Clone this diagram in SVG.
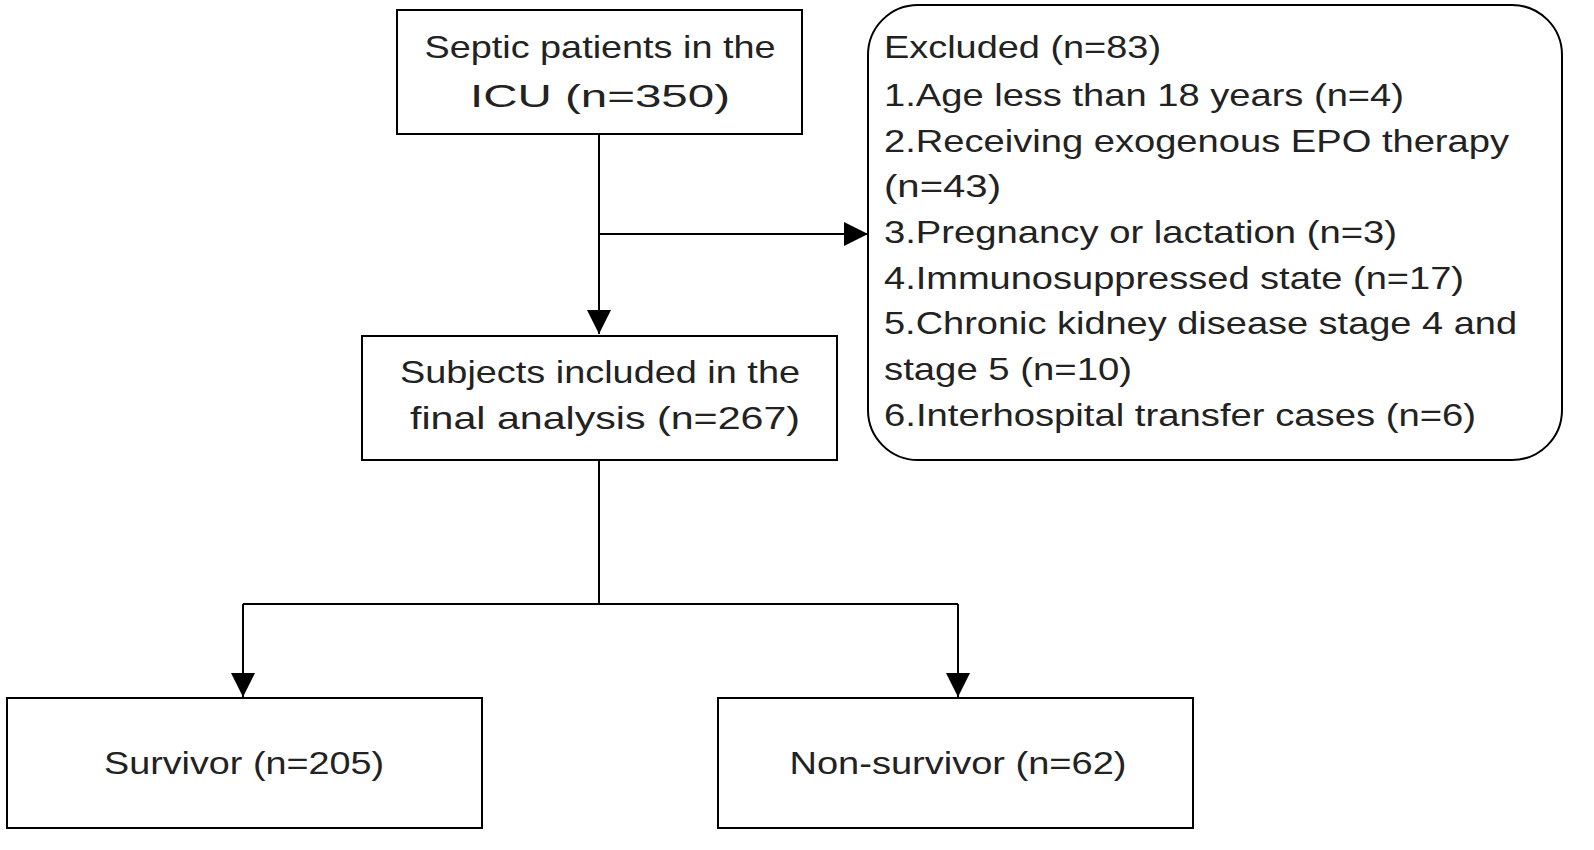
<svg xmlns="http://www.w3.org/2000/svg" width="1594" height="850" viewBox="0 0 1594 850">
<style>
.b{fill:#fff;stroke:#000;stroke-width:2}
.t{font-family:"Liberation Sans",Arial,sans-serif;font-size:32px;fill:#222}
.c{text-anchor:middle}
.l{fill:none;stroke:#000;stroke-width:2}
</style>
<defs><marker id="a" viewBox="0 0 10 10" refX="10" refY="5" markerWidth="24" markerHeight="24" markerUnits="userSpaceOnUse" orient="auto"><path d="M0,0L10,5L0,10z" fill="#000"/></marker></defs>
<rect width="1594" height="850" fill="#fff"/>
<g id="connectors">
<path class="l" d="M599,134V334" marker-end="url(#a)"/>
<path class="l" d="M599,234H868" marker-end="url(#a)"/>
<path class="l" d="M599,460V604"/>
<path class="l" d="M243,604H958"/>
<path class="l" d="M243,604V697" marker-end="url(#a)"/>
<path class="l" d="M958,604V697" marker-end="url(#a)"/>
</g>
<g id="n1"><rect class="b" x="397" y="10" width="405" height="124"/>
<text class="t c" x="600" y="58" textLength="351" lengthAdjust="spacingAndGlyphs">Septic patients in the</text><text class="t c" x="600" y="107" textLength="260" lengthAdjust="spacingAndGlyphs">ICU (n=350)</text></g>
<g id="n2"><rect class="b" x="868" y="5" width="694" height="455" rx="50"/>
<text class="t" x="884" y="58" textLength="277" lengthAdjust="spacingAndGlyphs">Excluded (n=83)</text>
<text class="t" x="884" y="106" textLength="520" lengthAdjust="spacingAndGlyphs">1.Age less than 18 years (n=4)</text>
<text class="t" x="884" y="152" textLength="625" lengthAdjust="spacingAndGlyphs">2.Receiving exogenous EPO therapy</text>
<text class="t" x="884" y="197" textLength="117" lengthAdjust="spacingAndGlyphs">(n=43)</text>
<text class="t" x="884" y="243" textLength="513" lengthAdjust="spacingAndGlyphs">3.Pregnancy or lactation (n=3)</text>
<text class="t" x="884" y="289" textLength="580" lengthAdjust="spacingAndGlyphs">4.Immunosuppressed state (n=17)</text>
<text class="t" x="884" y="334" textLength="633" lengthAdjust="spacingAndGlyphs">5.Chronic kidney disease stage 4 and</text>
<text class="t" x="884" y="380" textLength="248" lengthAdjust="spacingAndGlyphs">stage 5 (n=10)</text>
<text class="t" x="884" y="426" textLength="592" lengthAdjust="spacingAndGlyphs">6.Interhospital transfer cases (n=6)</text></g>
<g id="n3"><rect class="b" x="362" y="336" width="475" height="124"/>
<text class="t c" x="600" y="383" textLength="400" lengthAdjust="spacingAndGlyphs">Subjects included in the</text><text class="t c" x="605" y="429" textLength="390" lengthAdjust="spacingAndGlyphs">final analysis (n=267)</text></g>
<g id="n4"><rect class="b" x="7" y="698" width="475" height="130"/>
<text class="t c" x="244" y="774" textLength="280" lengthAdjust="spacingAndGlyphs">Survivor (n=205)</text></g>
<g id="n5"><rect class="b" x="718" y="698" width="475" height="130"/>
<text class="t c" x="958" y="774" textLength="337" lengthAdjust="spacingAndGlyphs">Non-survivor (n=62)</text></g>
</svg>
